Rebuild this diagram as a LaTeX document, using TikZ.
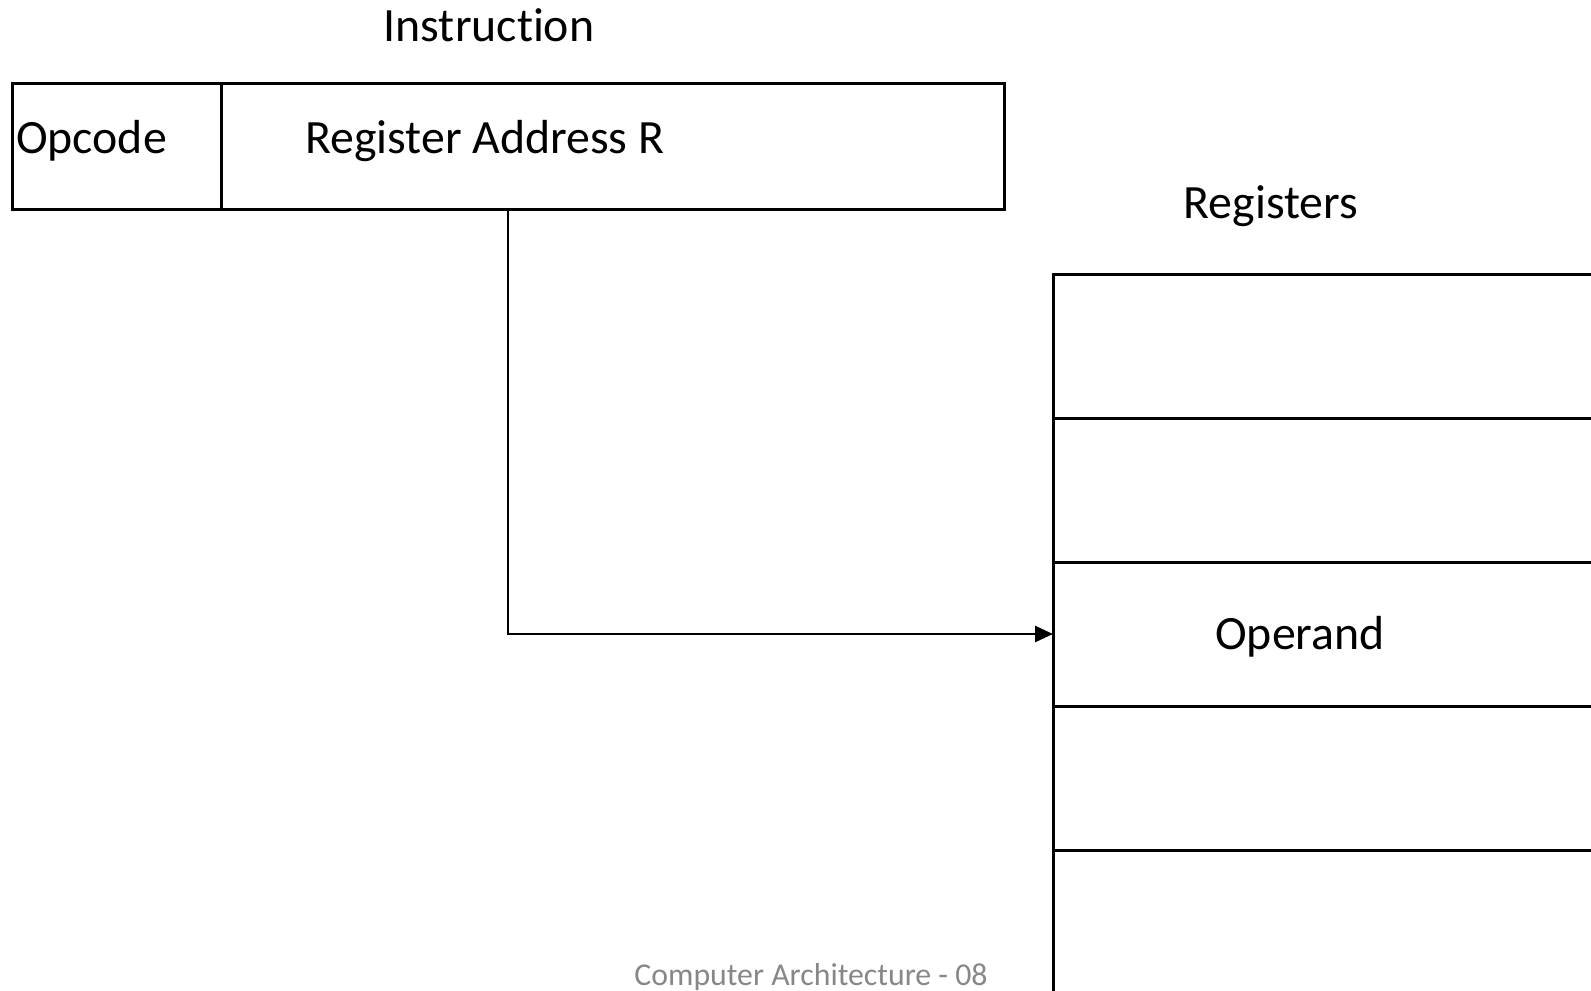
\documentclass[tikz,border=0pt]{standalone}
\usepackage{fontspec}
\setmainfont{Carlito}[Ligatures=NoCommon]
\usetikzlibrary{positioning}
\usetikzlibrary{arrows.meta}

\begin{document}
\begin{tikzpicture}[x=1pt,y=-1pt,
  box/.style={draw,line width=3pt,inner sep=0pt,outer sep=0pt,minimum height=#1},
  lbl/.style={inner sep=0pt,font=\fontsize{47.8}{57}\selectfont},
  wire/.style={line width=2.7pt}]
 \clip (0,0) rectangle (1591,991);
 % instruction word
 \node[box=126pt,minimum width=209pt,anchor=north west] (opc) at (12,83) {};
 \node[box=126pt,minimum width=783pt,right=0pt of opc] (addr) {};
 \node[lbl,anchor=base] (instr) at (489,41) {Instruction};
 \node[lbl,anchor=base west] (opctxt) at (16,153) {Opcode};
 \node[lbl,anchor=base west] (addrtxt) at (305,153) {Register Address R};
 % register file
 \node[box=144pt,minimum width=800pt,anchor=north west] (reg1) at (1053,274) {};
 \foreach \i [count=\j from 2] in {1,...,5}
   \node[box=144pt,minimum width=800pt,below=0pt of reg\i] (reg\j) {};
 \node[lbl,anchor=base] (regs) at (1271,218) {Registers};
 \node[lbl,anchor=base] (opnd) at (1300,649) {Operand};
 % address points at the operand
 \coordinate (tap) at (508,209);
 \draw[wire,-{Triangle[length=18pt,width=16pt]}] (tap) |- (reg3.west);
 \node[lbl,anchor=base,font=\fontsize{31.8}{38}\selectfont,text=black!47] (foot) at (811,985) {Computer Architecture - 08};
\end{tikzpicture}
\end{document}
